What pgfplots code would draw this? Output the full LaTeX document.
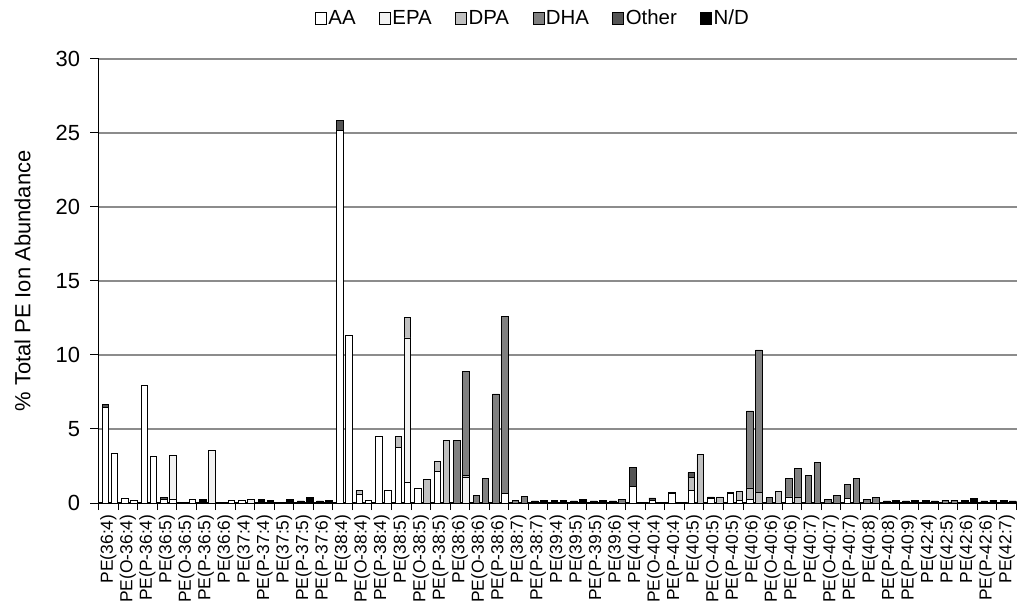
\documentclass[border=0pt]{standalone}
\usepackage{fontspec}
\setmainfont{Liberation Sans}
\usepackage{pgfplots}
\usepackage{pgfplotstable}
\pgfplotsset{compat=1.18}

\definecolor{cAA}{HTML}{FFFFFF}
\definecolor{cEPA}{HTML}{F2F2F2}
\definecolor{cDPA}{HTML}{C0C0C0}
\definecolor{cDHA}{HTML}{808080}
\definecolor{cOth}{HTML}{555555}
\definecolor{cND}{HTML}{000000}

% two bars per species: left at i-0.15, right at i+0.31
\pgfplotstableread{
x     AA    EPA   DPA   DHA   Oth   ND
-0.15 6.47  0     0     0     0.20  0
0.31  3.35  0     0     0     0     0
0.85  0.34  0     0     0     0     0
1.31  0.18  0     0     0     0     0
1.85  7.93  0     0     0     0     0
2.31  3.12  0     0     0     0     0
2.85  0.25  0     0     0     0.11  0
3.31  0.25  2.96  0     0     0     0
3.85  0     0     0     0     0     0
4.31  0.27  0     0     0     0     0
4.85  0     0     0     0     0     0.23
5.31  0     3.57  0     0     0     0
5.85  0     0     0     0     0     0
6.31  0.18  0     0     0     0     0
6.85  0.18  0     0     0     0     0
7.31  0     0.27  0     0     0     0
7.85  0     0     0     0     0     0.27
8.31  0     0     0     0     0     0.20
8.85  0     0     0     0     0     0
9.31  0     0     0     0     0     0.27
9.85  0     0     0     0     0     0.14
10.31 0     0     0     0     0     0.36
10.85 0     0     0     0     0     0.14
11.31 0     0     0     0     0     0.20
11.85 25.20 0     0     0     0.63  0
12.31 11.32 0     0     0     0     0
12.85 0.57  0     0.29  0     0     0
13.31 0.18  0     0     0     0     0
13.85 4.48  0     0     0     0     0
14.31 0.86  0     0     0     0     0
14.85 3.76  0     0.72  0     0     0
15.31 1.40  9.75  1.37  0     0     0
15.85 1.02  0     0     0     0     0
16.31 0     0     1.60  0     0     0
16.85 2.15  0     0.68  0     0     0
17.31 0     0     4.25  0     0     0
17.85 0     0     0     4.25  0     0
18.31 0     1.75  0.10  7.05  0     0
18.85 0     0     0     0.50  0     0
19.31 0     0     0     1.63  0     0
19.85 0     0     0     7.37  0     0
20.31 0.64  0     0     11.96 0     0
20.85 0     0     0     0.18  0     0
21.31 0     0     0     0.43  0     0
21.85 0     0     0     0     0     0.14
22.31 0     0     0     0     0     0.20
22.85 0     0     0     0     0     0.20
23.31 0     0     0     0     0     0.20
23.85 0     0     0     0     0     0.14
24.31 0     0     0     0     0     0.27
24.85 0     0     0     0     0     0.14
25.31 0     0     0     0     0     0.20
25.85 0     0     0     0     0     0.14
26.31 0     0     0     0.27  0     0
26.85 1.13  0     0     0     1.25  0
27.31 0     0     0     0     0     0
27.85 0.18  0     0     0     0.16  0
28.31 0     0     0     0     0     0
28.85 0.66  0     0     0     0.06  0
29.31 0     0     0     0     0     0
29.85 0.84  0     0.88  0     0.34  0
30.31 0     0     3.28  0     0     0
30.85 0.30  0     0     0     0.11  0
31.31 0     0     0.41  0     0     0
31.85 0.64  0     0     0     0.06  0
32.31 0.15  0     0.64  0     0     0
32.85 0.23  0     0.79  5.20  0     0
33.31 0     0     0.70  9.64  0     0
33.85 0     0     0     0.36  0     0
34.31 0     0     0.81  0     0     0
34.85 0.41  0     0     1.22  0     0
35.31 0     0     0.41  1.90  0     0
35.85 0     0     0     1.86  0     0
36.31 0     0     0     2.76  0     0
36.85 0     0     0     0.27  0     0
37.31 0     0     0     0.50  0     0
37.85 0.30  0     0     0.97  0     0
38.31 0     0     0     1.63  0     0
38.85 0     0     0     0.27  0     0
39.31 0     0     0     0.36  0     0
39.85 0     0     0     0     0     0.14
40.31 0     0     0     0     0     0.20
40.85 0     0     0     0     0     0.14
41.31 0     0     0     0     0     0.20
41.85 0     0     0     0     0     0.20
42.31 0     0     0     0     0     0.14
42.85 0     0     0     0.20  0     0
43.31 0     0     0     0.20  0     0
43.85 0     0     0     0     0     0.20
44.31 0     0     0     0     0     0.29
44.85 0     0     0     0     0     0.14
45.31 0     0     0     0     0     0.20
45.85 0     0     0     0     0     0.20
46.31 0     0     0     0     0     0.14
}\pedata

\begin{document}
\begin{tikzpicture}
\path[use as bounding box] (0,0) rectangle (1018bp,605bp);
\begin{axis}[
  at={(98.5bp,102bp)}, anchor=south west,
  scale only axis, width=918bp, height=444bp,
  ybar stacked, bar width=6.6bp,
  xmin=-0.5, xmax=46.5,
  ymin=0, ymax=30,
  ytick={0,5,...,30},
  xtick={0,...,46},
  xticklabels={PE(36:4),PE(O-36:4),PE(P-36:4),PE(36:5),PE(O-36:5),PE(P-36:5),PE(36:6),PE(37:4),PE(P-37:4),PE(37:5),PE(P-37:5),PE(P-37:6),PE(38:4),PE(O-38:4),PE(P-38:4),PE(38:5),PE(O-38:5),PE(P-38:5),PE(38:6),PE(O-38:6),PE(P-38:6),PE(38:7),PE(P-38:7),PE(39:4),PE(39:5),PE(P-39:5),PE(39:6),PE(40:4),PE(O-40:4),PE(P-40:4),PE(40:5),PE(O-40:5),PE(P-40:5),PE(40:6),PE(O-40:6),PE(P-40:6),PE(40:7),PE(O-40:7),PE(P-40:7),PE(40:8),PE(P-40:8),PE(P-40:9),PE(42:4),PE(42:5),PE(42:6),PE(P-42:6),PE(42:7)},
  minor xtick={-0.5,0.5,...,46.5},
  axis lines*=left,
  axis line style={line width=1.2bp, black},
  tick align=outside,
  major tick length=8bp, minor tick length=7bp,
  major x tick style={draw=none},
  minor x tick style={black, line width=1bp},
  ytick style={black, line width=1bp},
  ymajorgrids,
  major grid style={draw=black!45, line width=1.2bp},
  /pgf/number format/assume math mode=true,
  yticklabel style={font=\fontsize{22}{22}\selectfont, xshift=-7bp},
  xticklabel style={font=\fontsize{17.5}{17.5}\selectfont, rotate=90, anchor=east},
  ylabel={\% Total PE Ion Abundance},
  every axis y label/.style={at={(axis description cs:-0.0828,0.5)}, rotate=90, anchor=center, font=\fontsize{22}{22}\selectfont},
  legend columns=6,
  legend style={at={(0.473,1.092)}, anchor=center, draw=none, fill=none,
    font=\fontsize{20.5}{20.5}\selectfont,
    /tikz/every even column/.append style={column sep=22bp},
    nodes={inner sep=1.5bp}},
  legend image code/.code={\draw[#1, line width=0.8bp] (0bp,-6bp) rectangle (11bp,6bp);},
  every axis plot/.append style={draw=black, line width=0.8bp},
]
\addplot[fill=cAA] table[x=x, y=AA] {\pedata};
\addplot[fill=cEPA] table[x=x, y=EPA] {\pedata};
\addplot[fill=cDPA] table[x=x, y=DPA] {\pedata};
\addplot[fill=cDHA] table[x=x, y=DHA] {\pedata};
\addplot[fill=cOth] table[x=x, y=Oth] {\pedata};
\addplot[fill=cND] table[x=x, y=ND] {\pedata};
\legend{AA,EPA,DPA,DHA,Other,N/D}
\end{axis}
\end{tikzpicture}
\end{document}
